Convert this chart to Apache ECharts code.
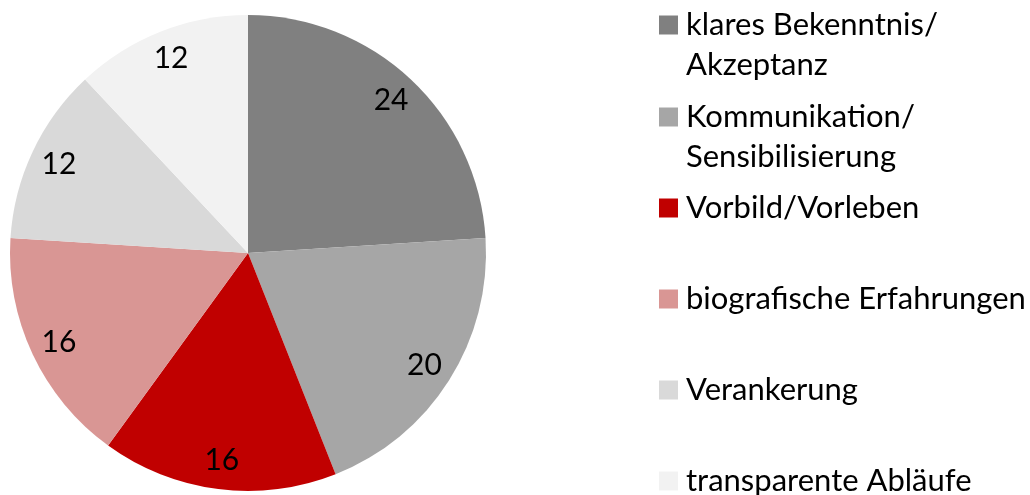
<!DOCTYPE html>
<html>
<head>
<meta charset="utf-8">
<script src="https://cdn.jsdelivr.net/npm/echarts@6/dist/echarts.min.js"></script>
<style>html,body{margin:0;padding:0;background:#fff}#c{width:1030px;height:495px}</style>
</head>
<body>
<div id="c"></div>
<script>
var categories = ['klares Bekenntnis/\nAkzeptanz', 'Kommunikation/\nSensibilisierung', 'Vorbild/Vorleben', 'biografische Erfahrungen', 'Verankerung', 'transparente Abläufe'];
var values = [24, 20, 16, 16, 12, 12];
var palette = ['#808080', '#a6a6a6', '#c00000', '#d99694', '#d9d9d9', '#f2f2f2'];

var FONT = 'Lato';
var FS = 31;
var legendCenters = [25, 117, 208, 299, 390, 481];

var data = categories.map(function (c, i) { return { name: c, value: values[i] }; });

var legends = categories.map(function (c, i) {
  var two = c.indexOf('\n') >= 0;
  return {
    data: [c],
    orient: 'vertical',
    left: 659,
    top: legendCenters[i] - (two ? 60 : 20),
    padding: 0,
    itemWidth: 19,
    itemHeight: 19,
    icon: 'rect',
    selectedMode: false,
    formatter: function (name) { return name.indexOf('\n') >= 0 ? '\n' + name : name; },
    textStyle: {
      fontFamily: FONT, fontSize: FS, color: '#000', lineHeight: 40,
      padding: [0, 0, 0, 3]
    }
  };
});

var chart = echarts.init(document.getElementById('c'), null, { renderer: 'canvas' });
chart.setOption({
  animation: false,
  color: palette,
  legend: legends,
  series: [
    {
      type: 'pie',
      center: [248, 253],
      radius: [0, 238],
      startAngle: 90,
      clockwise: true,
      silent: true,
      label: { show: false },
      labelLine: { show: false },
      itemStyle: { borderWidth: 0 },
      data: data
    },
    {
      type: 'pie',
      center: [248, 253],
      radius: [174, 238],
      startAngle: 90,
      clockwise: true,
      silent: true,
      itemStyle: { color: 'rgba(0,0,0,0)', borderWidth: 0 },
      label: {
        show: true, position: 'inside', formatter: '{c}',
        fontFamily: FONT, fontSize: 30, color: '#000'
      },
      labelLine: { show: false },
      data: data
    }
  ]
});
</script>
</body>
</html>
